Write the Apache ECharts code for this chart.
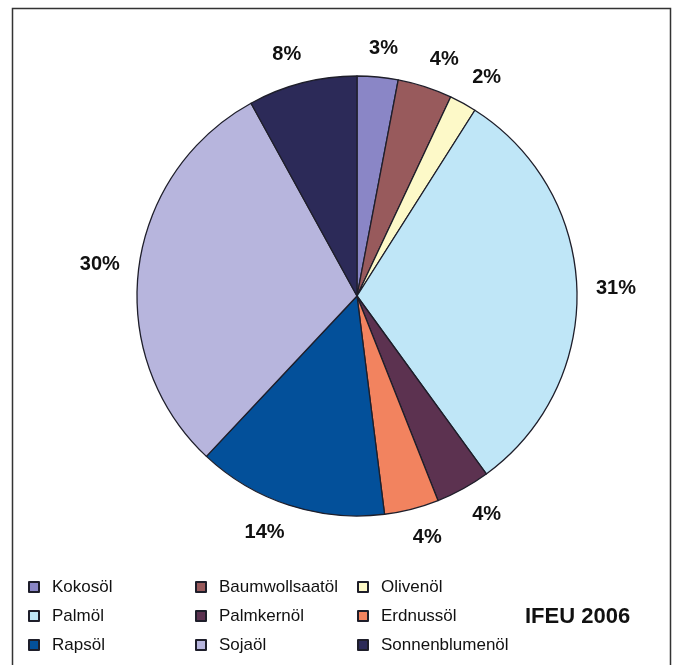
<!DOCTYPE html>
<html>
<head>
<meta charset="utf-8">
<script src="https://cdn.jsdelivr.net/npm/echarts@6/dist/echarts.min.js"></script>
<style>
  html, body { margin: 0; padding: 0; background: #fff; }
  #chart { width: 676px; height: 665px; }
</style>
</head>
<body>
<div id="chart"></div>
<script>
// Pflanzenöl-Anteile (in %), im Uhrzeigersinn ab 12 Uhr
const oils = ['Kokosöl', 'Baumwollsaatöl', 'Olivenöl', 'Palmöl', 'Palmkernöl', 'Erdnussöl', 'Rapsöl', 'Sojaöl', 'Sonnenblumenöl'];
const shares = [3, 4, 2, 31, 4, 4, 14, 30, 8];
const colors = ['#8a86c6', '#985a5c', '#fdf9c8', '#bfe6f7', '#5c3250', '#f2835f', '#03509a', '#b7b5dd', '#2c2a58'];

// Legende in drei Spalten
const legendCol1 = ['Kokosöl', 'Palmöl', 'Rapsöl'];
const legendCol2 = ['Baumwollsaatöl', 'Palmkernöl', 'Sojaöl'];
const legendCol3 = ['Olivenöl', 'Erdnussöl', 'Sonnenblumenöl'];

const CX = 357, CY = 296, R = 220, GAP = 19;
const total = shares.reduce((a, b) => a + b, 0);

function midAngle(i) {
  let before = 0;
  for (let k = 0; k < i; k++) before += shares[k];
  return (before + shares[i] / 2) / total * Math.PI * 2;
}

const chart = echarts.init(document.getElementById('chart'), null, { renderer: 'canvas' });

const legendBase = {
  orient: 'vertical',
  top: 577,
  padding: 0,
  itemWidth: 10,
  itemHeight: 10,
  itemGap: 9,
  icon: 'rect',
  selectedMode: false,
  textStyle: {
    fontFamily: 'Liberation Sans, Arial, sans-serif',
    fontSize: 17,
    lineHeight: 20,
    color: '#111',
    padding: [0, 0, 0, 8]
  }
};

chart.setOption({
  animation: false,
  backgroundColor: '#fff',
  color: colors,
  legend: [
    Object.assign({}, legendBase, { left: 28, data: legendCol1 }),
    Object.assign({}, legendBase, { left: 195, data: legendCol2 }),
    Object.assign({}, legendBase, { left: 357, data: legendCol3 })
  ],
  graphic: [
    {
      type: 'rect',
      silent: true,
      shape: { x: 12.5, y: 8.5, width: 658, height: 700 },
      style: { fill: 'none', stroke: '#333', lineWidth: 1.5 }
    },
    {
      type: 'text',
      left: 525,
      top: 606,
      style: {
        text: 'IFEU 2006',
        fontFamily: 'Liberation Sans, Arial, sans-serif',
        fontWeight: 'bold',
        fontSize: 22,
        fill: '#111'
      }
    }
  ],
  series: [{
    type: 'pie',
    center: [CX, CY],
    radius: R,
    startAngle: 90,
    clockwise: true,
    avoidLabelOverlap: false,
    emphasis: { disabled: true },
    itemStyle: { borderColor: '#1e1e2a', borderWidth: 1.3 },
    label: {
      show: true,
      position: 'outside',
      formatter: '{c}%',
      fontFamily: 'Liberation Sans, Arial, sans-serif',
      fontWeight: 'bold',
      fontSize: 20,
      color: '#111'
    },
    labelLine: { show: false, length: 10, length2: 0 },
    labelLayout: function (p) {
      const a = midAngle(p.dataIndex);
      const ux = Math.sin(a), uy = -Math.cos(a);
      const w = p.labelRect.width, h = p.labelRect.height;
      const k = Math.max(-1, Math.min(1, ux * 3));
      return {
        x: CX + (R + GAP) * ux + w / 2 * k,
        y: CY + (R + GAP) * uy + h / 2 * uy,
        align: 'center',
        verticalAlign: 'middle'
      };
    },
    data: oils.map((name, i) => ({ name: name, value: shares[i] }))
  }]
});
</script>
</body>
</html>
